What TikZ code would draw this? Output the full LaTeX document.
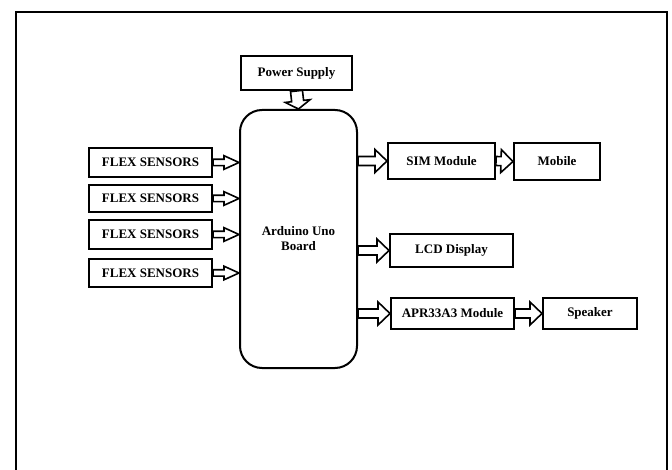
\documentclass[tikz,border=0pt]{standalone}
\usepackage{fontspec}
\setmainfont{Liberation Serif}
\usetikzlibrary{calc}

\tikzset{
  blk/.style={draw, line width=2pt, inner sep=2pt, align=center,
    font=\bfseries\fontsize{13}{15}\selectfont},
  hollow/.style n args={3}{draw, line width=1.6pt, to path={
    let \p1=($(\tikztotarget)!#3!(\tikztostart)$) in
    ($(\tikztostart)!#1!90:(\tikztotarget)$) -- ($(\p1)!#1!90:(\tikztotarget)$)
    -- ($(\p1)!#2!90:(\tikztotarget)$) -- (\tikztotarget)
    -- ($(\p1)!#2!-90:(\tikztotarget)$) -- ($(\p1)!#1!-90:(\tikztotarget)$)
    -- ($(\tikztostart)!#1!-90:(\tikztotarget)$) -- cycle}},
  thinarrow/.style={hollow={3.2pt}{6.8pt}{15pt}},
  fatarrow/.style={hollow={4.5pt}{11.5pt}{12pt}}
}

\begin{document}
\begin{tikzpicture}[x=1pt, y=-1pt]
  \useasboundingbox (0,0) rectangle (672,470);
  \draw[line width=1.8pt] (16,470) -- (16,12) -- (667,12) -- (667,470);

  \node[blk, minimum width=111pt, minimum height=34pt] (power) at (296.5,73) {Power Supply};
  \node[blk, rounded corners=22pt, minimum width=117pt, minimum height=258pt] (board) at (298.5,239) {Arduino Uno\\Board};

  \node[blk, minimum width=123pt, minimum height=29pt] (f1) at (150.5,162.5) {FLEX SENSORS};
  \node[blk, minimum width=123pt, minimum height=27pt] (f2) at (150.5,198.5) {FLEX SENSORS};
  \node[blk, minimum width=123pt, minimum height=29pt] (f3) at (150.5,234.5) {FLEX SENSORS};
  \node[blk, minimum width=123pt, minimum height=28pt] (f4) at (150.5,273) {FLEX SENSORS};

  \node[blk, minimum width=107pt, minimum height=36pt] (sim) at (441.5,161) {SIM Module};
  \node[blk, minimum width=86pt, minimum height=37pt] (mobile) at (557,161.5) {Mobile};
  \node[blk, minimum width=123pt, minimum height=33pt] (lcd) at (451.5,250.5) {LCD Display};
  \node[blk, minimum width=123pt, minimum height=31pt] (apr) at (452.5,313.5) {APR33A3 Module};
  \node[blk, minimum width=94pt, minimum height=31pt] (spk) at (590,313.5) {Speaker};

  \draw[hollow={6pt}{12.5pt}{8pt}] (power.south) to (board.north);
  \foreach \f in {f1,f2,f3,f4}
    \draw[thinarrow] (\f.east) to (\f.east -| board.west);
  \foreach \m in {sim,lcd,apr}
    \draw[fatarrow] (board.east |- \m.west) to (\m.west);
  \draw[fatarrow] (sim.east) to (mobile.west);
  \draw[fatarrow] (apr.east) to (spk.west);
\end{tikzpicture}
\end{document}
